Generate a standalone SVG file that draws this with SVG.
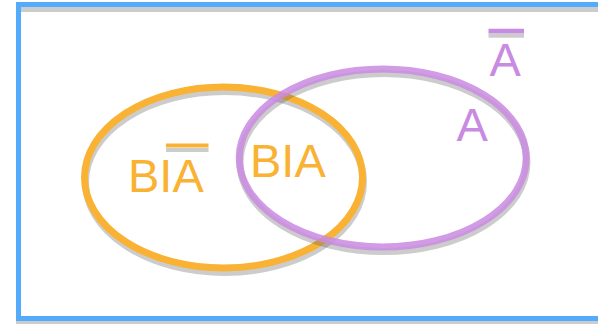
<svg xmlns="http://www.w3.org/2000/svg" width="598" height="324" viewBox="0 0 598 324">
<style>
.shadow{fill:none;stroke:#cccccc}
.frame{fill:none;stroke:#55abfb;stroke-width:5}
.ring{fill:none;stroke-width:7}
.orange{stroke:#f9b233}
.purple{stroke:#c98ae2;opacity:0.85}
.t{font-family:"Liberation Sans",Arial,sans-serif;font-size:47px}
.to{fill:#f9b233}
.tp{fill:#c98ae2}
</style>
<rect width="598" height="324" fill="#ffffff"/>
<g id="universe">
<rect class="shadow" x="18.5" y="9.5" width="620" height="314" stroke-width="5"/>
<rect class="frame" x="18.5" y="4.5" width="620" height="314"/>
</g>
<g id="setB">
<ellipse class="shadow" cx="224.5" cy="182" rx="139" ry="90.5" stroke-width="7"/>
<ellipse class="ring orange" cx="223.5" cy="177.5" rx="139" ry="90.5"/>
</g>
<g id="setA">
<ellipse cx="383.5" cy="162.5" rx="143.5" ry="89" fill="none" stroke="#555555" stroke-width="7" stroke-opacity="0.3"/>
<ellipse class="ring purple" cx="382.7" cy="158" rx="143.5" ry="89"/>
</g>
<g id="label-B-notA">
<text class="t to" x="128" y="192">BIA</text>
<line x1="166" y1="150" x2="208.5" y2="150" stroke="#cccccc" stroke-width="4"/>
<line x1="166" y1="145.5" x2="208.5" y2="145.5" stroke="#f9b233" stroke-width="4"/>
</g>
<g id="label-B-A">
<text class="t to" x="250" y="177">BIA</text>
</g>
<g id="label-A">
<text class="t tp" x="456.5" y="141">A</text>
</g>
<g id="label-notA">
<text class="t tp" x="489.5" y="76">A</text>
<line x1="488.5" y1="35.5" x2="524" y2="35.5" stroke="#cccccc" stroke-width="4.5"/>
<line x1="488.5" y1="31" x2="524" y2="31" stroke="#c98ae2" stroke-width="4.5"/>
</g>
<g id="connectors"></g>
</svg>
